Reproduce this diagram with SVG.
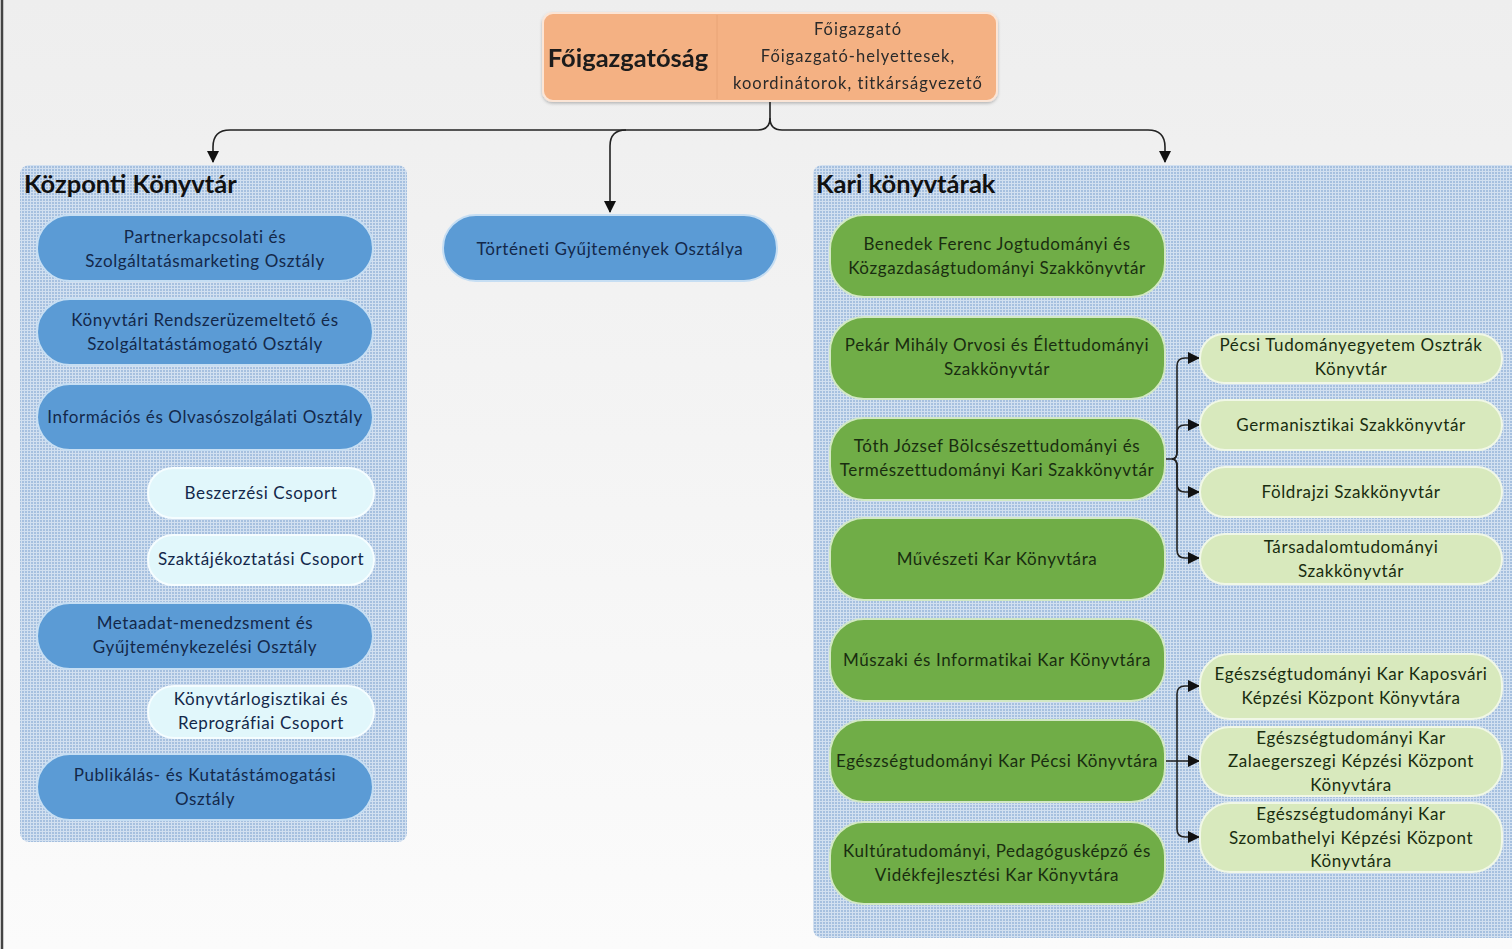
<svg xmlns="http://www.w3.org/2000/svg" width="1512" height="949" viewBox="0 0 1512 949">
<defs>
<linearGradient id="bg" x1="0" y1="0" x2="0" y2="1">
<stop offset="0" stop-color="#eeeeee"/>
<stop offset="1" stop-color="#fbfbfb"/>
</linearGradient>
<pattern id="hatch" width="3" height="3" patternUnits="userSpaceOnUse">
<rect width="3" height="3" fill="#a6c0df"/>
<rect width="3" height="1" fill="#d2e0f0"/>
<rect width="1" height="3" fill="#d2e0f0"/>
</pattern>
<marker id="arr" markerWidth="12" markerHeight="12" refX="11" refY="6" orient="auto" markerUnits="userSpaceOnUse">
<path d="M0,0 L12,6 L0,12 z" fill="#111"/>
</marker>
<filter id="sh" x="-5%" y="-10%" width="110%" height="130%">
<feDropShadow dx="0" dy="1.5" stdDeviation="1.5" flood-color="#000" flood-opacity="0.25"/>
</filter>
</defs>
<style>
text{font-family:Lato,"Liberation Sans",sans-serif;text-anchor:middle}
.t{font-size:17px;letter-spacing:0.6px;fill:#13284a}
.tg{font-size:17px;letter-spacing:0.6px;fill:#192d10}
.title{font-size:25.5px;font-weight:bold;fill:#111;text-anchor:start}
.blue{fill:#5b9bd5;stroke:#c6def3;stroke-width:2}
.cyan{fill:#e1f7fb;stroke:#f5fdff;stroke-width:2}
.green{fill:#70ad47;stroke:#d2e8c4;stroke-width:2}
.lg{fill:#d8e9bd;stroke:#f0f7e6;stroke-width:2}
.panel{fill:url(#hatch)}
.c{fill:none;stroke:#222;stroke-width:1.6}
.h{font-size:16.5px;letter-spacing:1px;fill:#2a2a2a}
</style>
<rect width="1512" height="949" fill="url(#bg)"/>
<line x1="2" y1="0" x2="2" y2="949" stroke="#444" stroke-width="2.5"/>

<g id="kozponti-panel">
<rect class="panel" x="20" y="165" width="387" height="677" rx="9"/>
<text class="title" x="24" y="193">Központi Könyvtár</text>
</g>
<g id="kari-panel">
<rect class="panel" x="813" y="165" width="710" height="773" rx="9"/>
<text class="title" x="816" y="193">Kari könyvtárak</text>
</g>

<g id="foigazgatosag" filter="url(#sh)">
<rect x="543" y="13" width="454" height="88" rx="10" fill="#f4b183" stroke="#fbe5d6" stroke-width="2"/>
<line x1="717" y1="15" x2="717" y2="99" stroke="#e8a477" stroke-width="1"/>
<text x="628" y="67" style="font-size:25.5px;font-weight:bold;fill:#1a1a1a">Főigazgatóság</text>
<text class="h" x="858" y="35">Főigazgató</text>
<text class="h" x="858" y="62">Főigazgató-helyettesek,</text>
<text class="h" x="858" y="89">koordinátorok, titkárságvezető</text>
</g>

<g id="connectors">
<path class="c" d="M770,102 V118 Q770,130 758,130 H230 Q213,130 213,147 V162" marker-end="url(#arr)"/>
<path class="c" d="M770,118 Q770,130 782,130 H1148 Q1165,130 1165,147 V162" marker-end="url(#arr)"/>
<path class="c" d="M626,130 Q610,130 610,146 V212" marker-end="url(#arr)"/>
<path class="c" d="M1165,459 H1172 Q1177,459 1177,452 V366 Q1177,358 1185,358 H1199" marker-end="url(#arr)"/>
<path class="c" d="M1172,459 Q1177,459 1177,452 V433 Q1177,425 1185,425 H1199" marker-end="url(#arr)"/>
<path class="c" d="M1172,459 Q1177,459 1177,466 V484 Q1177,492 1185,492 H1199" marker-end="url(#arr)"/>
<path class="c" d="M1172,459 Q1177,459 1177,466 V550 Q1177,558 1185,558 H1199" marker-end="url(#arr)"/>
<path class="c" d="M1165,761 H1199" marker-end="url(#arr)"/>
<path class="c" d="M1177,761 V694 Q1177,686 1185,686 H1199" marker-end="url(#arr)"/>
<path class="c" d="M1177,761 V829 Q1177,837 1185,837 H1199" marker-end="url(#arr)"/>
</g>

<g id="partnerkapcsolati"><rect class="blue" x="37" y="215" width="336" height="66" rx="33"/>
<text class="t" x="205" y="243">Partnerkapcsolati és</text><text class="t" x="205" y="267">Szolgáltatásmarketing Osztály</text></g>
<g id="rendszeruzemelteto"><rect class="blue" x="37" y="299" width="336" height="66" rx="33"/>
<text class="t" x="205" y="326">Könyvtári Rendszerüzemeltető és</text><text class="t" x="205" y="350">Szolgáltatástámogató Osztály</text></g>
<g id="informacios"><rect class="blue" x="37" y="384" width="336" height="66" rx="33"/>
<text class="t" x="205" y="423">Információs és Olvasószolgálati Osztály</text></g>
<g id="beszerzesi"><rect class="cyan" x="148" y="468" width="226" height="50" rx="25"/>
<text class="t" x="261" y="499">Beszerzési Csoport</text></g>
<g id="szaktajekoztatasi"><rect class="cyan" x="148" y="535" width="226" height="50" rx="25"/>
<text class="t" x="261" y="565">Szaktájékoztatási Csoport</text></g>
<g id="metaadat"><rect class="blue" x="37" y="603" width="336" height="66" rx="33"/>
<text class="t" x="205" y="629">Metaadat-menedzsment és</text><text class="t" x="205" y="653">Gyűjteménykezelési Osztály</text></g>
<g id="konyvtarlogisztikai"><rect class="cyan" x="148" y="686" width="226" height="52" rx="26"/>
<text class="t" x="261" y="705">Könyvtárlogisztikai és</text><text class="t" x="261" y="729">Reprográfiai Csoport</text></g>
<g id="publikalas"><rect class="blue" x="37" y="754" width="336" height="66" rx="33"/>
<text class="t" x="205" y="781">Publikálás- és Kutatástámogatási</text><text class="t" x="205" y="805">Osztály</text></g>

<g id="torteneti"><rect class="blue" x="443" y="215" width="334" height="66" rx="33"/>
<text class="t" x="610" y="255">Történeti Gyűjtemények Osztálya</text></g>

<g id="benedek"><rect class="green" x="830" y="215" width="335" height="82" rx="34"/>
<text class="tg" x="997" y="250">Benedek Ferenc Jogtudományi és</text><text class="tg" x="997" y="274">Közgazdaságtudományi Szakkönyvtár</text></g>
<g id="pekar"><rect class="green" x="830" y="317" width="335" height="82" rx="34"/>
<text class="tg" x="997" y="351">Pekár Mihály Orvosi és Élettudományi</text><text class="tg" x="997" y="375">Szakkönyvtár</text></g>
<g id="toth"><rect class="green" x="830" y="418" width="335" height="82" rx="34"/>
<text class="tg" x="997" y="452">Tóth József Bölcsészettudományi és</text><text class="tg" x="997" y="476">Természettudományi Kari Szakkönyvtár</text></g>
<g id="muveszeti"><rect class="green" x="830" y="518" width="335" height="82" rx="34"/>
<text class="tg" x="997" y="565">Művészeti Kar Könyvtára</text></g>
<g id="muszaki"><rect class="green" x="830" y="619" width="335" height="82" rx="34"/>
<text class="tg" x="997" y="666">Műszaki és Informatikai Kar Könyvtára</text></g>
<g id="egeszseg-pecs"><rect class="green" x="830" y="720" width="335" height="82" rx="34"/>
<text class="tg" x="997" y="767">Egészségtudományi Kar Pécsi Könyvtára</text></g>
<g id="kulturatudomanyi"><rect class="green" x="830" y="822" width="335" height="82" rx="34"/>
<text class="tg" x="997" y="857">Kultúratudományi, Pedagógusképző és</text><text class="tg" x="997" y="881">Vidékfejlesztési Kar Könyvtára</text></g>

<g id="osztrak"><rect class="lg" x="1200" y="334" width="302" height="49" rx="24"/>
<text class="tg" x="1351" y="351">Pécsi Tudományegyetem Osztrák</text><text class="tg" x="1351" y="375">Könyvtár</text></g>
<g id="germanisztikai"><rect class="lg" x="1200" y="400" width="302" height="50" rx="25"/>
<text class="tg" x="1351" y="431">Germanisztikai Szakkönyvtár</text></g>
<g id="foldrajzi"><rect class="lg" x="1200" y="467" width="302" height="50" rx="25"/>
<text class="tg" x="1351" y="498">Földrajzi Szakkönyvtár</text></g>
<g id="tarsadalomtudomanyi"><rect class="lg" x="1200" y="534" width="302" height="50" rx="25"/>
<text class="tg" x="1351" y="553">Társadalomtudományi</text><text class="tg" x="1351" y="577">Szakkönyvtár</text></g>
<g id="kaposvari"><rect class="lg" x="1200" y="654" width="302" height="65" rx="30"/>
<text class="tg" x="1351" y="680">Egészségtudományi Kar Kaposvári</text><text class="tg" x="1351" y="704">Képzési Központ Könyvtára</text></g>
<g id="zalaegerszegi"><rect class="lg" x="1200" y="727" width="302" height="69" rx="30"/>
<text class="tg" x="1351" y="744">Egészségtudományi Kar</text><text class="tg" x="1351" y="767">Zalaegerszegi Képzési Központ</text><text class="tg" x="1351" y="791">Könyvtára</text></g>
<g id="szombathelyi"><rect class="lg" x="1200" y="803" width="302" height="69" rx="30"/>
<text class="tg" x="1351" y="820">Egészségtudományi Kar</text><text class="tg" x="1351" y="844">Szombathelyi Képzési Központ</text><text class="tg" x="1351" y="867">Könyvtára</text></g>
</svg>
